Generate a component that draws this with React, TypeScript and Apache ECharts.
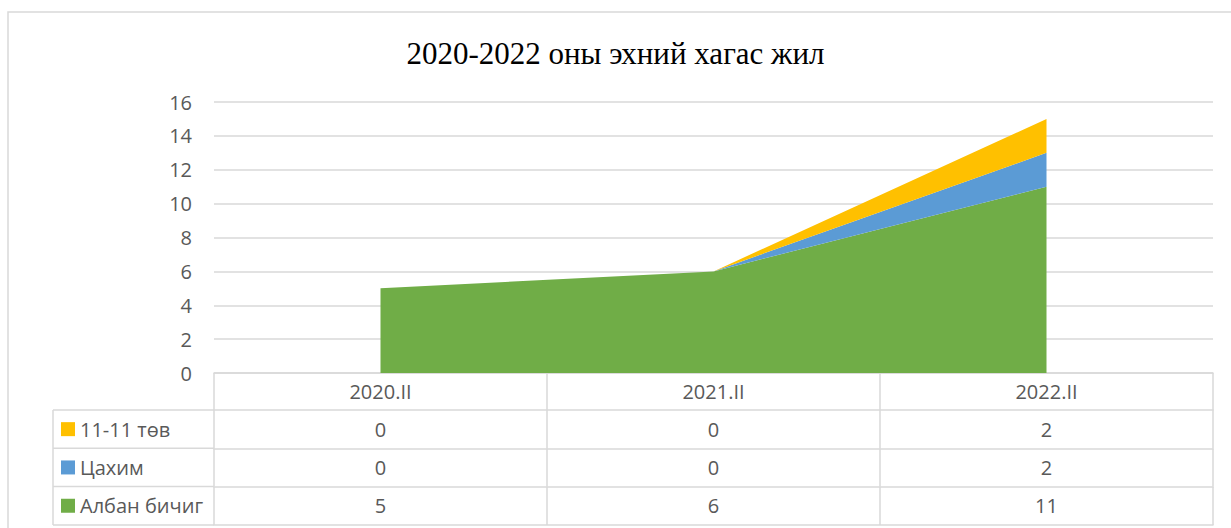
import React, { useEffect, useRef } from "react";
import * as echarts from "echarts";

const categories = ["2020.II", "2021.II", "2022.II"];
const albanBichig = [5, 6, 11];
const tsakhim = [0, 0, 2];
const tuv = [0, 0, 2];
const seriesNames = ["Албан бичиг", "Цахим", "11-11 төв"];
const seriesColors = ["#70AD47", "#5B9BD5", "#FFC000"];
const tableRowNames = ["11-11 төв", "Цахим", "Албан бичиг"];
const tableRowValues = [tuv, tsakhim, albanBichig];
const yMax = 16;
const yInterval = 2;
const titleText = "2020-2022 оны эхний хагас жил";

const W = 1231;
const H = 528;
const GRID_LEFT = 214;
const GRID_RIGHT = 18;
const GRID_TOP = 102;
const GRID_BOTTOM_Y = 373;
const HEADER_H = 37;
const ROW_H = 38.3;
const TABLE_LEFT = 53;
const LINE = "#d9d9d9";
const TEXT = "#595959";
const FONT = "'Open Sans', 'Noto Sans', sans-serif";
const FS = 20;

export default function App() {
  const ref = useRef<HTMLDivElement>(null);
  useEffect(() => {
    if (!ref.current) return;
    const chart = echarts.init(ref.current, undefined, { renderer: "svg" });

    const rowTop = (i: number) => GRID_BOTTOM_Y + HEADER_H + i * ROW_H;

    const axisBase = (offset: number, tickLen: number, formatter: any, margin: number) => ({
      type: "category",
      data: categories,
      boundaryGap: true,
      position: "bottom",
      offset,
      axisLine: { show: true, lineStyle: { color: LINE, width: 1.5 } },
      axisTick: { show: tickLen > 0, length: tickLen, inside: false, lineStyle: { color: LINE, width: 1.5 } },
      axisLabel: {
        show: !!formatter,
        formatter: formatter || undefined,
        margin,
        verticalAlign: "middle",
        fontFamily: FONT,
        fontSize: FS,
        color: TEXT,
        interval: 0,
      },
      splitLine: { show: false },
    });

    const xAxes: any[] = [
      axisBase(0, HEADER_H, (v: string) => v, HEADER_H / 2),
    ];
    tableRowValues.forEach((vals, i) => {
      const off = rowTop(i) - GRID_BOTTOM_Y;
      xAxes.push(axisBase(off, ROW_H, (_v: string, idx: number) => String(vals[idx]), ROW_H / 2));
    });
    xAxes.push(axisBase(rowTop(tableRowValues.length) - GRID_BOTTOM_Y, 0, null, 0));

    const graphics: any[] = [
      {
        type: "rect",
        shape: { x: 8, y: 12, width: W + 40, height: H + 40 },
        style: { fill: "none", stroke: LINE, lineWidth: 1.5 },
        silent: true,
      },
      {
        type: "line",
        shape: { x1: TABLE_LEFT, y1: rowTop(0), x2: TABLE_LEFT, y2: rowTop(tableRowValues.length) },
        style: { stroke: LINE, lineWidth: 1.5 },
        silent: true,
      },
    ];
    for (let i = 0; i <= tableRowValues.length; i++) {
      graphics.push({
        type: "line",
        shape: { x1: TABLE_LEFT, y1: rowTop(i), x2: GRID_LEFT, y2: rowTop(i) },
        style: { stroke: LINE, lineWidth: 1.5 },
        silent: true,
      });
    }

    const seriesData = [albanBichig, tsakhim, tuv];

    chart.setOption({
      animation: false,
      title: {
        text: titleText,
        left: "center",
        top: 38,
        padding: 0,
        textStyle: {
          fontFamily: "'Liberation Serif', 'Times New Roman', serif",
          fontSize: 31,
          fontWeight: "normal",
          color: "#000000",
        },
      },
      legend: {
        data: tableRowNames,
        orient: "vertical",
        left: 61,
        top: rowTop(0) + ROW_H / 2 - 12,
        padding: 0,
        itemGap: ROW_H - 24,
        itemWidth: 14,
        itemHeight: 14,
        icon: "rect",
        selectedMode: false,
        textStyle: { fontFamily: FONT, fontSize: FS, color: TEXT, lineHeight: 24 },
      },
      grid: {
        left: GRID_LEFT,
        right: GRID_RIGHT,
        top: GRID_TOP,
        bottom: H - GRID_BOTTOM_Y,
        containLabel: false,
      },
      xAxis: xAxes,
      yAxis: {
        type: "value",
        min: 0,
        max: yMax,
        interval: yInterval,
        axisLine: { show: false },
        axisTick: { show: false },
        axisLabel: { margin: 22, fontFamily: FONT, fontSize: FS, color: TEXT },
        splitLine: { lineStyle: { color: LINE, width: 1.5 } },
      },
      graphic: graphics,
      series: seriesNames.map((name, i) => ({
        name,
        type: "line",
        stack: "total",
        xAxisIndex: 0,
        data: seriesData[i],
        color: seriesColors[i],
        showSymbol: false,
        symbol: "none",
        lineStyle: { width: 0, color: seriesColors[i] },
        itemStyle: { color: seriesColors[i] },
        areaStyle: { color: seriesColors[i], opacity: 1 },
        z: 2,
      })),
    });
    return () => chart.dispose();
  }, []);
  return (
    <div
      ref={ref}
      style={{ position: "fixed", left: 0, top: 0, width: W, height: H, background: "#fff" }}
    />
  );
}
